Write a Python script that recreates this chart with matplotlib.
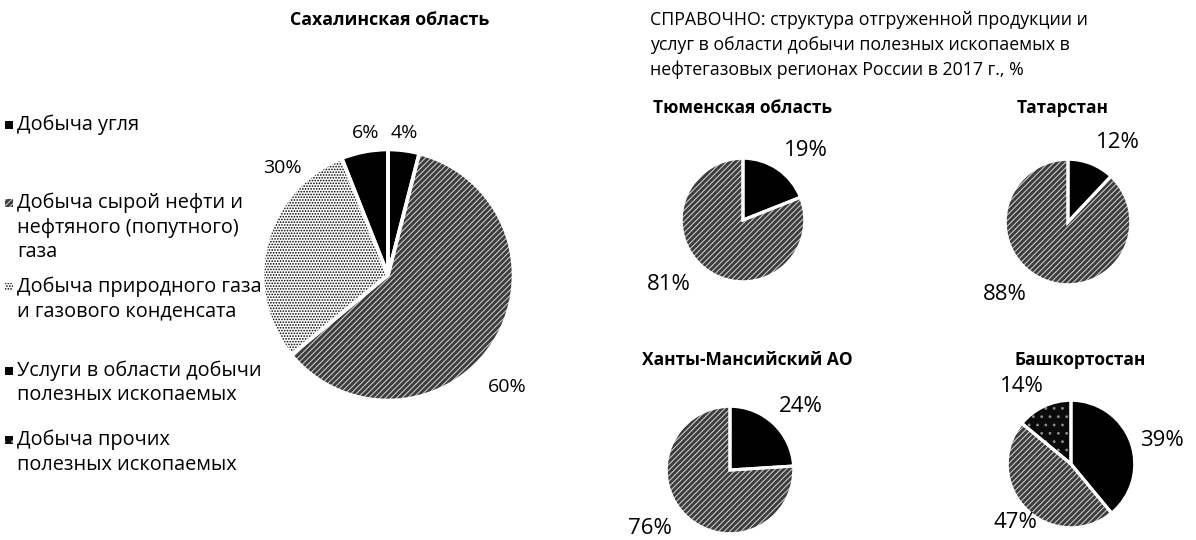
import matplotlib
matplotlib.use("Agg")
import matplotlib.pyplot as plt
from matplotlib.patches import Rectangle

plt.rcParams['font.family'] = ['Open Sans', 'DejaVu Sans']
plt.rcParams['hatch.linewidth'] = 0.8

W, H = 1196, 540

# ---- data ----
main_title = "Сахалинская область"
main_values = [4, 60, 30, 6]
main_labels = ["4%", "60%", "30%", "6%"]
main_kinds = ["coal", "oil", "gas", "services"]

legend_labels = [
    "Добыча угля",
    "Добыча сырой нефти и\nнефтяного (попутного)\nгаза",
    "Добыча природного газа\nи газового конденсата",
    "Услуги в области добычи\nполезных ископаемых",
    "Добыча прочих\nполезных ископаемых",
]
legend_kinds = ["coal", "oil", "gas", "services", "other"]

ref_title = ("СПРАВОЧНО: структура отгруженной продукции и\n"
             "услуг в области добычи полезных ископаемых в\n"
             "нефтегазовых регионах России в 2017 г., %")

regions = ["Тюменская область", "Татарстан", "Ханты-Мансийский АО", "Башкортостан"]
region_values = [[19, 81], [12, 88], [24, 76], [39, 47, 14]]
region_labels = [["19%", "81%"], ["12%", "88%"], ["24%", "76%"], ["39%", "47%", "14%"]]
region_kinds = [["services", "oil"], ["services", "oil"], ["services", "oil"],
                ["services", "oil", "other"]]

# ---- styles ----
STYLE = {
    "coal":     dict(face="#000000", hatch=None, hcol="#000000"),
    "oil":      dict(face="#3c3c3c", hatch="//////", hcol="#c8c8c8"),
    "gas":      dict(face="#ffffff", hatch="......", hcol="#000000"),
    "services": dict(face="#000000", hatch=None, hcol="#000000"),
    "other":    dict(face="#0a0a0a", hatch="..", hcol="#8a8a8a"),
}

fig = plt.figure(figsize=(W / 100, H / 100), dpi=100)


def fx(x):
    return x / W


def fy(y):
    return 1 - y / H


def pie_axes(cx, cy, r):
    ax = fig.add_axes([fx(cx - r), fy(cy + r), 2 * r / W, 2 * r / H])
    ax.axis("off")
    return ax


def draw_pie(ax, values, kinds, gap=2.2):
    wedges, _ = ax.pie(values, startangle=90, counterclock=False, radius=1,
                       center=(0, 0), frame=True)
    for w, k in zip(wedges, kinds):
        st = STYLE[k]
        w.set_facecolor(st["face"])
        w.set_edgecolor(st["hcol"])
        w.set_linewidth(0)
        if st["hatch"]:
            w.set_hatch(st["hatch"])
    # white separating outlines
    ax.pie(values, startangle=90, counterclock=False, radius=1,
           center=(0, 0), frame=True,
           wedgeprops=dict(facecolor="none", edgecolor="white", linewidth=gap))
    ax.set_xlim(-1.02, 1.02)
    ax.set_ylim(-1.02, 1.02)
    ax.set_aspect("equal")
    ax.axis("off")


# ---- main pie ----
ax0 = pie_axes(388, 275, 128)
draw_pie(ax0, main_values, main_kinds, gap=2.6)
fig.text(fx(390), fy(20), main_title, ha="center", va="center",
         fontsize=12.8, fontweight="bold")

main_label_pos = [(404, 133), (507, 387), (282, 168), (366, 133)]
for lab, (x, y) in zip(main_labels, main_label_pos):
    fig.text(fx(x), fy(y), lab, ha="center", va="center", fontsize=14)

# ---- legend ----
legend_first_y = [125, 203, 287, 371, 440]
line_step = 24.5
for lab, k, y0 in zip(legend_labels, legend_kinds, legend_first_y):
    st = STYLE[k]
    sq = Rectangle((fx(5), fy(y0 + 4)), 8 / W, 8 / H, transform=fig.transFigure,
                   facecolor=st["face"], edgecolor=st["hcol"], linewidth=0,
                   hatch=st["hatch"])
    fig.add_artist(sq)
    for i, line in enumerate(lab.split("\n")):
        fig.text(fx(17), fy(y0 + i * line_step), line, ha="left", va="center",
                 fontsize=14.3)

# ---- reference block ----
for i, line in enumerate(ref_title.split("\n")):
    fig.text(fx(650), fy(20 + 25 * i), line, ha="left", va="center", fontsize=12.8)

centers = [(743, 220, 63), (1068, 222, 64), (730, 470, 65), (1071, 464, 65)]
title_pos = [(653, 108, "left"), (1063, 108, "center"), (642, 360, "left"), (1080, 360, "center")]
label_pos = [[(806, 151), (669, 285)], [(1118, 142), (1005, 294)],
             [(801, 406), (650, 528)], [(1162, 440), (1015, 522), (1022, 386)]]

for name, vals, labs, kinds, (cx, cy, r), (tx, ty, ha), lps in zip(
        regions, region_values, region_labels, region_kinds, centers, title_pos, label_pos):
    ax = pie_axes(cx, cy, r)
    draw_pie(ax, vals, kinds, gap=2.2)
    fig.text(fx(tx), fy(ty), name, ha=ha, va="center", fontsize=12.5, fontweight="bold")
    for lab, (x, y) in zip(labs, lps):
        fig.text(fx(x), fy(y), lab, ha="center", va="center", fontsize=16)

fig.savefig("out.png", dpi=100, facecolor="white")
